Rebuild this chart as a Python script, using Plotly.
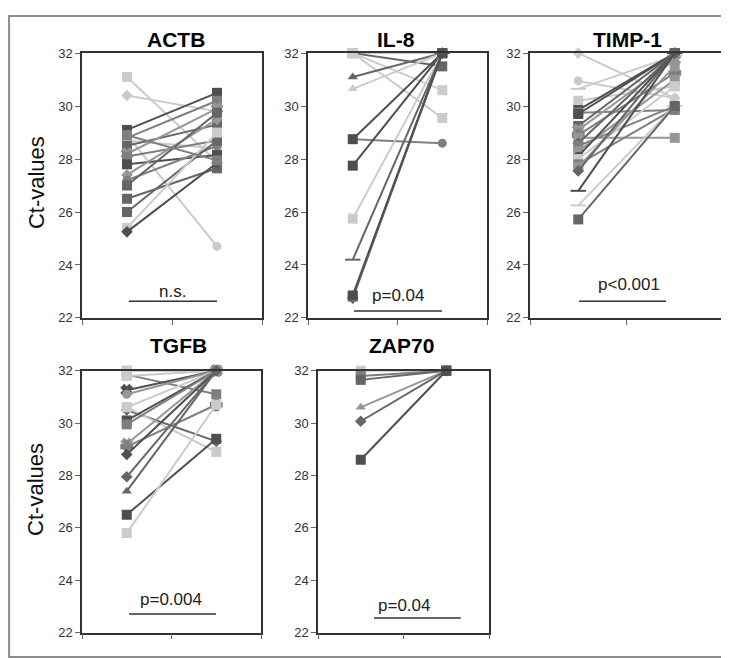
import plotly.graph_objects as go

# ---------------- data ----------------
timepoints = [0, 1]
genes = ["ACTB", "IL-8", "TIMP-1", "TGFB", "ZAP70"]
p_labels = ["n.s.", "p=0.04", "p<0.001", "p=0.004", "p=0.04"]
y_ticks = [22, 24, 26, 28, 30, 32]

actb_before = [31.1, 30.4, 29.1, 28.9, 28.8, 28.7, 28.5, 28.2, 28.1, 27.8, 27.4, 27.2, 27.0, 26.5, 26.0, 25.4, 25.25, 28.9]
actb_after  = [27.9, 29.8, 30.5, 24.7, 30.2, 28.4, 29.3, 29.9, 28.7, 28.15, 29.5, 28.5, 29.75, 27.65, 28.7, 29.0, 27.85, 27.95]

il8_before = [32.0, 32.0, 32.0, 32.0, 31.1, 30.65, 28.75, 28.75, 27.75, 25.75, 24.2, 22.75, 22.8, 22.85]
il8_after  = [32.0, 31.5, 30.6, 29.55, 32.0, 32.0, 28.6, 32.0, 32.0, 32.0, 32.0, 32.0, 32.0, 32.0]

timp1_before = [32.0, 30.95, 30.65, 30.2, 29.85, 29.75, 29.7, 29.25, 29.1, 28.9, 28.8, 28.6, 28.5, 28.3, 28.1, 28.0, 27.8, 27.7, 27.55, 26.8, 26.25, 25.72]
timp1_after  = [30.3, 30.3, 31.9, 30.75, 32.0, 29.85, 32.0, 32.0, 31.75, 31.25, 28.8, 32.0, 30.0, 31.0, 32.0, 30.75, 29.9, 31.5, 32.0, 32.0, 30.0, 30.0]

tgfb_before = [32.0, 32.0, 31.85, 31.8, 31.25, 31.1, 30.6, 30.5, 30.6, 30.1, 29.95, 29.2, 29.1, 28.8, 27.95, 27.4, 26.5, 25.8]
tgfb_after  = [32.0, 32.0, 31.1, 32.0, 32.0, 32.0, 32.0, 29.3, 28.9, 32.0, 32.0, 32.0, 30.7, 32.0, 32.0, 32.0, 29.4, 30.7]

zap70_before = [32.0, 31.8, 31.65, 30.6, 30.07, 28.6]
zap70_after  = [32.0, 32.0, 32.0, 32.0, 32.0, 32.0]

before_sets = [actb_before, il8_before, timp1_before, tgfb_before, zap70_before]
after_sets = [actb_after, il8_after, timp1_after, tgfb_after, zap70_after]

# ---------------- styling ----------------
SH = {"D": "#4f4f4f", "d": "#666666", "m": "#7f7f7f", "M": "#969696", "l": "#b3b3b3", "L": "#cbcbcb"}
SY = {"s": "square", "d": "diamond", "t": "triangle-up", "c": "circle", "-": "line-ew-open", "x": "x", "+": "cross"}
shade_codes = [
    "LLDLmLdMmDMmdddLDm",
    "LdLLdLmDDLdDmD",
    "LLLLDmDdMmMdmMDLmMdDLd",
    "LLmLDMLdLDmMmDddDL",
    "LmdMdD",
]
symbol_codes = [
    "sdscsssxssdcssssds",
    "ssssttcsss-dss",
    "dc-sssssx+sdsscsssd--s",
    "ssssxcsdsssx+ddtss",
    "ssstds",
]

W, H = 729, 658
boxes = [(74, 254, 39, 310), (300, 479, 39, 310), (522, 715, 39, 310),
         (74, 253, 364, 632), (310, 481, 364, 632)]
title_pos = [(168, 25), (388, 25), (619, 25), (170, 338), (393, 338)]
sig = [(0.5, 23.0, 0.02, 1.0, 22.63),
       (0.5, 22.85, 0.014, 0.997, 22.26),
       (0.53, 23.25, 0.008, 0.91, 22.63),
       (0.49, 23.27, 0.025, 0.997, 22.71),
       (0.5, 23.04, 0.155, 1.17, 22.56)]

fig = go.Figure()
layout = dict(width=W, height=H, margin=dict(l=0, r=0, t=0, b=0),
              paper_bgcolor="white", plot_bgcolor="white", showlegend=False,
              annotations=[], shapes=[])

for i, (g, bef, aft) in enumerate(zip(genes, before_sets, after_sets)):
    n = i + 1
    xa = "x" if n == 1 else f"x{n}"
    ya = "y" if n == 1 else f"y{n}"
    for k, (b, a) in enumerate(zip(bef, aft)):
        c = SH[shade_codes[i][k]]
        sym = SY[symbol_codes[i][k]]
        open_sym = sym in ("line-ew-open", "x", "cross")
        size = 10 if sym == "square" else (11 if sym == "line-ew-open" else 9)
        fig.add_trace(go.Scatter(
            x=timepoints, y=[b, a], xaxis=xa, yaxis=ya, mode="lines+markers",
            line=dict(color=c, width=2),
            marker=dict(symbol=sym, size=size, color=c,
                        line=dict(color=c, width=2 if open_sym else 0)),
            cliponaxis=False, hoverinfo="skip"))
    l, r, t, bt = boxes[i]
    axis_common = dict(showline=True, mirror=True, linecolor="#333333", linewidth=1.5,
                       showgrid=False, zeroline=False, ticks="outside", ticklen=5,
                       tickcolor="#666666", tickwidth=1)
    layout["xaxis" if n == 1 else f"xaxis{n}"] = dict(
        domain=[l / W, r / W], anchor=ya, range=[-0.5, 1.5],
        tickvals=[-0.5, 0.5, 1.5], showticklabels=False, **axis_common)
    layout["yaxis" if n == 1 else f"yaxis{n}"] = dict(
        domain=[1 - bt / H, 1 - t / H], anchor=xa, range=[22, 32],
        tickvals=y_ticks, ticktext=[str(v) for v in y_ticks],
        tickfont=dict(family="Liberation Sans, Arial", size=13, color="#333333"),
        **axis_common)
    tx, ty = title_pos[i]
    layout["annotations"].append(dict(
        text=f"<b>{g}</b>", x=tx / W, y=1 - ty / H, xref="paper", yref="paper",
        showarrow=False, xanchor="center", yanchor="middle",
        font=dict(family="Liberation Sans, Arial", size=21, color="black")))
    sx, sy, lx0, lx1, ly = sig[i]
    layout["annotations"].append(dict(
        text=p_labels[i], x=sx, y=sy, xref=xa, yref=ya, showarrow=False,
        xanchor="center", yanchor="middle",
        font=dict(family="Liberation Sans, Arial", size=17, color="#222222")))
    layout["shapes"].append(dict(type="line", xref=xa, yref=ya, x0=lx0, x1=lx1, y0=ly, y1=ly,
                                 line=dict(color="#333333", width=1.5)))

for yc in (172, 486):
    layout["annotations"].append(dict(
        text="Ct-values", x=28 / W, y=1 - yc / H, xref="paper", yref="paper",
        textangle=-90, showarrow=False, xanchor="center", yanchor="middle",
        font=dict(family="Liberation Sans, Arial", size=22, color="#111111")))

layout["shapes"].append(dict(type="rect", xref="paper", yref="paper", x0=0.0015, x1=0.9985,
                             y0=0.0015, y1=0.9985, line=dict(color="#8c8c8c", width=2)))

fig.update_layout(**layout)
fig.write_html("out.html")
